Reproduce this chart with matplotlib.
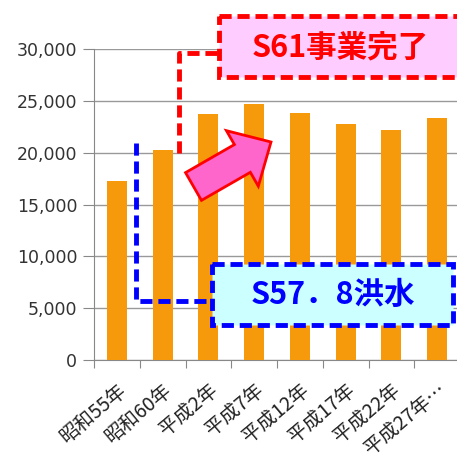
import matplotlib.pyplot as plt
import matplotlib.patches as mpatches
from matplotlib.transforms import Affine2D

plt.rcParams['font.family'] = ['Noto Sans CJK JP', 'DejaVu Sans']

years = ['昭和55年', '昭和60年', '平成2年', '平成7年', '平成12年', '平成17年', '平成22年', '平成27年…']
values = [17300, 20300, 23700, 24650, 23800, 22750, 22200, 23300]
yticks = [0, 5000, 10000, 15000, 20000, 25000, 30000]

W, H = 457, 459
fig = plt.figure(figsize=(W / 100, H / 100), dpi=100)
ax = fig.add_axes([94 / W, 99 / H, 366 / W, 311 / H])

x = range(len(values))
ax.bar(x, values, width=0.44, color='#F69A0B', zorder=3)

ax.set_xlim(-0.5, len(values) - 0.5)
ax.set_ylim(0, 30000)
ax.set_yticks(yticks)
ax.set_yticklabels([f'{v:,}' for v in yticks], family='DejaVu Sans', fontsize=12.5, color='#333333')
ax.set_xticks([i + 0.5 for i in range(-1, len(values))], minor=False)
ax.set_xticklabels([])
ax.set_xticks(list(x), minor=True)
ax.set_xticklabels(years, minor=True, rotation=40, ha='right', va='top',
                   rotation_mode='anchor', fontsize=14, color='#222222')
ax.tick_params(axis='x', which='minor', length=0, pad=14)
ax.tick_params(axis='x', which='major', length=6, color='#888888')
ax.tick_params(axis='y', length=8, color='#888888', pad=4)
ax.yaxis.grid(True, color='#999999', lw=1, zorder=0)
for s in ['top', 'right']:
    ax.spines[s].set_visible(False)
for s in ['left', 'bottom']:
    ax.spines[s].set_color('#888888')

# pixel coordinates, origin at top-left
px = Affine2D().scale(1, -1).translate(0, H).scale(1 / 100) + fig.dpi_scale_trans

# red callout
fig.add_artist(plt.Line2D([179, 179, 220], [153, 53, 53], transform=px, color='#FF0000',
                          lw=3.5, ls=(0, (2.5, 1.2))))
fig.add_artist(mpatches.Rectangle((219, 16), 240, 61, transform=px, facecolor='#FFCCFF',
                                  edgecolor='#FF0000', lw=3.5, ls=(0, (2.5, 1.2))))
fig.text(340 / W, 1 - 47 / H, 'S61事業完了', color='#FF0000', fontsize=22, fontweight='bold',
         ha='center', va='center')

# blue callout
fig.add_artist(plt.Line2D([136, 136, 212], [143, 301, 301], transform=px, color='#0000FF',
                          lw=3.5, ls=(0, (2.5, 1.2))))
fig.add_artist(mpatches.Rectangle((212, 264), 241, 61, transform=px, facecolor='#CCFFFF',
                                  edgecolor='#0000FF', lw=3.5, ls=(0, (2.5, 1.2))))
fig.text(333 / W, 1 - 295 / H, 'S57．8洪水', color='#0000FF', fontsize=22, fontweight='bold',
         ha='center', va='center')

# pink arrow
fig.add_artist(mpatches.FancyArrow(193.5, 186.5, 77.5, -44.5, width=32, head_width=64,
                                   head_length=33, length_includes_head=True, transform=px,
                                   facecolor='#FF66CC', edgecolor='#FF0000', lw=2))

fig.savefig('out.png', dpi=100)
